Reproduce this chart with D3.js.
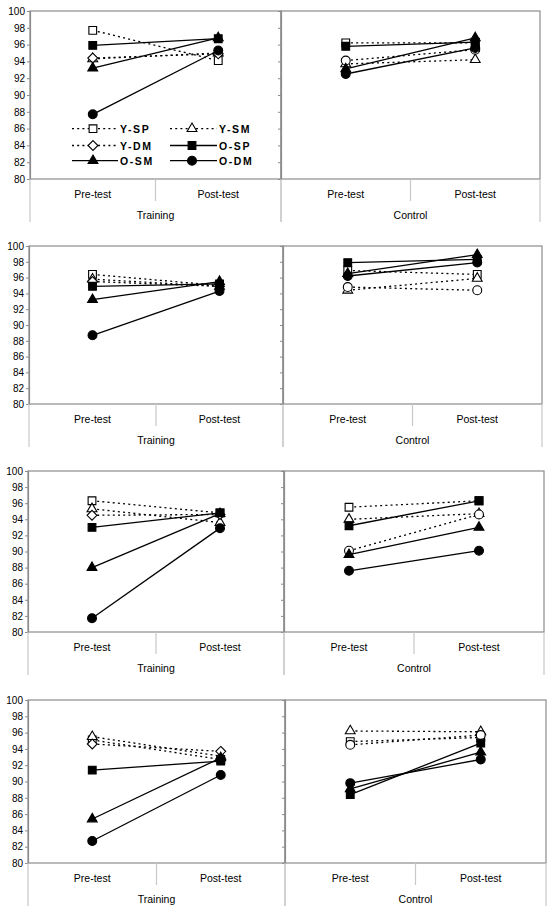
<!DOCTYPE html>
<html><head><meta charset="utf-8">
<script src="https://cdn.jsdelivr.net/npm/d3@7"></script>
<style>body{margin:0;background:#fff} svg{display:block} text{font-family:"Liberation Sans",Arial,sans-serif;fill:#000}</style>
</head><body><svg id="c" width="553" height="913"></svg>
<script>
// ---------- data ----------
const groups = ["Training", "Control"];
const phases = ["Pre-test", "Post-test"];
const series = ["Y-SP", "Y-SM", "Y-DM", "O-SP", "O-SM", "O-DM"];
const yTicks = [80, 82, 84, 86, 88, 90, 92, 94, 96, 98, 100];

// values per series [pre, post], series order as above
const p1Training = [[97.7, 94.1], [94.3, 95.0], [94.4, 94.9], [95.9, 96.7], [93.2, 96.8], [87.7, 95.3]];
const p1Control  = [[96.2, 96.2], [93.7, 94.2], [94.1, 95.4], [95.8, 96.3], [93.1, 96.8], [92.5, 95.6]];
const p2Training = [[96.4, 95.0], [95.8, 94.9], [95.5, 94.9], [94.9, 95.2], [93.2, 95.5], [88.7, 94.3]];
const p2Control  = [[96.9, 96.4], [94.4, 95.9], [94.8, 94.4], [97.9, 98.3], [96.5, 98.9], [96.2, 97.9]];
const p3Training = [[96.3, 94.8], [95.3, 93.6], [94.5, 94.6], [93.0, 94.8], [88.0, 94.7], [81.7, 92.9]];
const p3Control  = [[95.5, 96.3], [94.0, 94.7], [90.1, 94.6], [93.2, 96.3], [89.6, 93.0], [87.6, 90.1]];
const p4Training = [[95.1, 92.7], [95.5, 93.1], [94.6, 93.7], [91.4, 92.5], [85.4, 92.9], [82.7, 90.8]];
const p4Control  = [[94.9, 95.4], [96.2, 96.1], [94.5, 95.7], [88.4, 94.7], [89.1, 93.6], [89.8, 92.7]];

const panelsData = [[p1Training, p1Control], [p2Training, p2Control], [p3Training, p3Control], [p4Training, p4Control]];

// ---------- layout ----------
const layout = [
  {l: 30, m: 281, r: 540, t: 11, b: 179},
  {l: 29, m: 283, r: 542, t: 246, b: 404},
  {l: 28, m: 284, r: 544, t: 471, b: 632},
  {l: 28, m: 285, r: 546, t: 700, b: 863}
];
const frameColor = "#8c8c8c";
const sepColor = "#c8c8c8";

const svg = d3.select("#c");

function markerPath(name, group) {
  const kind = name.slice(2), young = name[0] === "Y";
  let s, size;
  if (kind === "SP") { s = d3.symbolSquare; size = 60; }
  else if (kind === "SM") { s = d3.symbolTriangle; size = 42; }
  else if (young && group === "Training") { s = d3.symbolDiamond2; size = 62; }
  else { s = d3.symbolCircle; size = 62; }
  return d3.symbol(s, size)();
}
function styleOf(name) {
  const young = name[0] === "Y";
  return { dash: young ? "2,3.2" : null, fill: young ? "#fff" : "#000" };
}

layout.forEach((L, pi) => {
  const y = d3.scaleLinear().domain([80, 100]).range([L.b, L.t]);
  const g = svg.append("g");
  groups.forEach((grp, gi) => {
    const x0 = gi === 0 ? L.l : L.m, x1 = gi === 0 ? L.m : L.r;
    const x = d3.scaleBand().domain(phases).range([x0, x1]).padding(0);
    const cx = d => x(d) + x.bandwidth() / 2;
    const cg = g.append("g");
    cg.append("rect").attr("x", x0).attr("y", L.t).attr("width", x1 - x0).attr("height", L.b - L.t)
      .attr("fill", "none").attr("stroke", frameColor).attr("stroke-width", 1.2);
    const ax = d3.axisLeft(y).tickValues(yTicks).tickSize(3).tickPadding(2)
      .tickFormat(gi === 0 ? d3.format("d") : () => "");
    const axg = cg.append("g").attr("transform", `translate(${x0},0)`).call(ax);
    axg.select(".domain").attr("stroke", frameColor).attr("stroke-width", 1.2);
    axg.selectAll(".tick line").attr("stroke", frameColor);
    axg.selectAll(".tick text").attr("font-size", 10).attr("font-family", "Liberation Sans, Arial, sans-serif").attr("fill", "#000");
    const sepLong = 43, sepShort = 22;
    [[x0, sepLong], [x0 + x.bandwidth(), sepShort], [x1, sepLong]].forEach(([sx, len]) => {
      cg.append("line").attr("x1", sx).attr("x2", sx).attr("y1", L.b).attr("y2", L.b + len)
        .attr("stroke", sepColor).attr("stroke-width", 1.2);
    });
    phases.forEach(p => {
      cg.append("text").attr("x", cx(p)).attr("y", L.b + 19).attr("text-anchor", "middle")
        .attr("font-size", 10.5).text(p);
    });
    cg.append("text").attr("x", (x0 + x1) / 2).attr("y", L.b + 40).attr("text-anchor", "middle")
      .attr("font-size", 10.5).text(grp);
    const vals = panelsData[pi][gi];
    series.forEach((name, si) => {
      const st = styleOf(name);
      const pts = phases.map((p, k) => [cx(p), y(vals[si][k])]);
      cg.append("path").attr("d", d3.line()(pts)).attr("fill", "none").attr("stroke", "#000")
        .attr("stroke-width", 1.3).attr("stroke-dasharray", st.dash);
      pts.forEach(pt => {
        cg.append("path").attr("d", markerPath(name, grp)).attr("transform", `translate(${pt[0]},${pt[1]})`)
          .attr("fill", st.fill).attr("stroke", "#000").attr("stroke-width", 1.1);
      });
    });
  });
});

// ---------- legend (panel 1, training) ----------
const legendRows = [[0, 1], [2, 3], [4, 5]];
const legY = [128.7, 145.5, 160.7];
const legCols = [{x1: 72, x2: 118, mx: 93, tx: 120}, {x1: 170, x2: 217, mx: 192, tx: 219}];
const lg = svg.append("g");
legendRows.forEach((row, ri) => {
  row.forEach((si, ci) => {
    const name = series[si], st = styleOf(name), c = legCols[ci], yy = legY[ri];
    lg.append("line").attr("x1", c.x1).attr("x2", c.x2).attr("y1", yy).attr("y2", yy)
      .attr("stroke", "#000").attr("stroke-width", 1.3).attr("stroke-dasharray", st.dash);
    lg.append("path").attr("d", markerPath(name, "Training")).attr("transform", `translate(${c.mx},${yy})`)
      .attr("fill", st.fill).attr("stroke", "#000").attr("stroke-width", 1.1);
    lg.append("text").attr("x", c.tx).attr("y", yy + 4).attr("font-size", 10.5).attr("font-weight", "bold")
      .attr("letter-spacing", 1.6).text(name);
  });
});
</script>
</body></html>
